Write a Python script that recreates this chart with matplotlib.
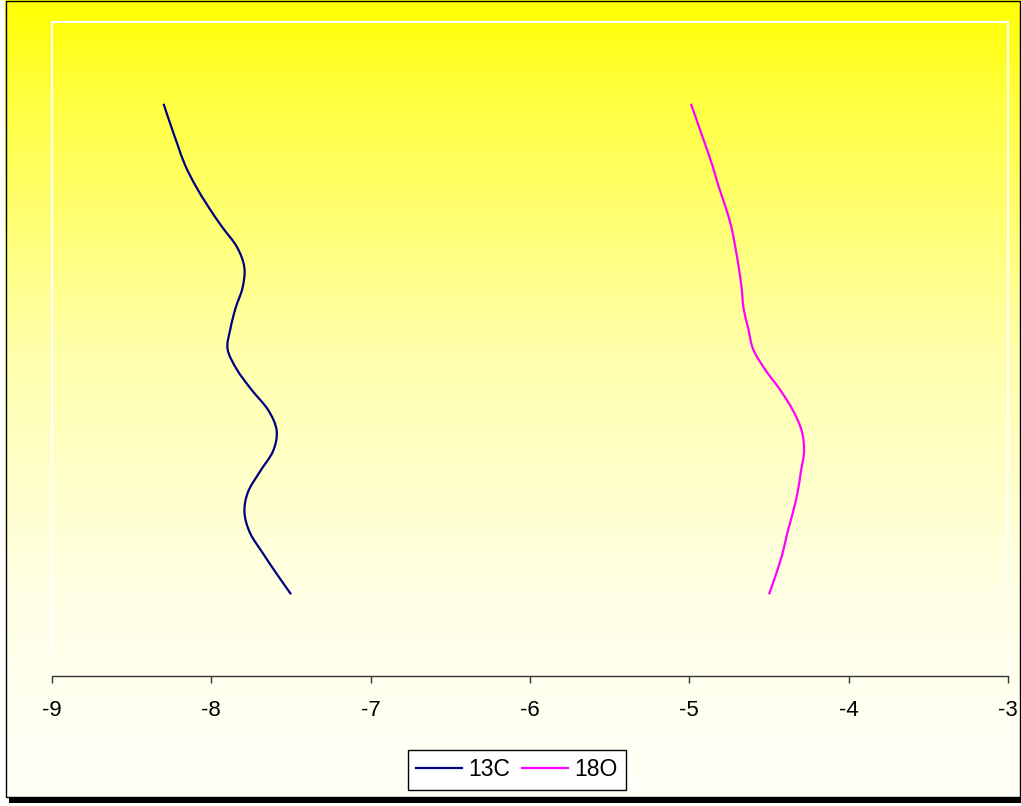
import numpy as np
import matplotlib
matplotlib.use("Agg")
import matplotlib.pyplot as plt
from matplotlib.patches import Rectangle, PathPatch
from matplotlib.path import Path
from matplotlib.lines import Line2D
from matplotlib.colors import LinearSegmentedColormap

plt.rcParams['font.family'] = ['Liberation Sans', 'DejaVu Sans']

# Sample depth positions (hidden vertical axis, increasing downwards)
depth = [1.0, 1.25, 1.5, 1.75, 2.0, 2.25, 2.5, 2.75, 3.0, 3.25, 3.5, 3.75,
         4.0, 4.25, 4.5, 4.75, 5.0, 5.25, 5.5, 5.75, 6.0, 6.25, 6.5, 6.75, 7.0]

# Isotope values
c13 = [-8.30, -8.257, -8.212, -8.165, -8.10, -8.022, -7.935, -7.84, -7.793,
       -7.804, -7.848, -7.88, -7.898, -7.84, -7.747, -7.642, -7.59, -7.613,
       -7.695, -7.77, -7.792, -7.757, -7.676, -7.59, -7.50]
o18 = [-4.99, -4.945, -4.90, -4.856, -4.818, -4.775, -4.737, -4.712, -4.69,
       -4.672, -4.66, -4.63, -4.60, -4.525, -4.43, -4.35, -4.295, -4.28,
       -4.30, -4.32, -4.35, -4.385, -4.415, -4.455, -4.50]

xticks = [-9, -8, -7, -6, -5, -4, -3]

C13_COLOR = '#000080'
O18_COLOR = '#FF00FF'


def smooth_path(xs, ys):
    """Cubic Bezier path through every point (Catmull-Rom style smoothing)."""
    pts = np.column_stack([xs, ys]).astype(float)
    n = len(pts)
    verts = [pts[0]]
    codes = [Path.MOVETO]
    for i in range(n - 1):
        p_prev = pts[max(i - 1, 0)]
        p0 = pts[i]
        p1 = pts[i + 1]
        p_next = pts[min(i + 2, n - 1)]
        c1 = p0 + (p1 - p_prev) / 6.0
        c2 = p1 - (p_next - p0) / 6.0
        verts.extend([c1, c2, p1])
        codes.extend([Path.CURVE4] * 3)
    return Path(verts, codes)


W, H = 1021, 806
fig = plt.figure(figsize=(W / 100, H / 100), dpi=100, facecolor='white')

# Background layer in pixel coordinates
bg = fig.add_axes([0, 0, 1, 1], zorder=0)
bg.set_xlim(0, W)
bg.set_ylim(H, 0)
bg.axis('off')

# Drop shadow below the chart frame
bg.add_patch(Rectangle((9, 797), W - 9, 6, facecolor='black', edgecolor='none'))

# Vertical yellow-to-cream gradient fill
grad_cmap = LinearSegmentedColormap.from_list(
    'yellow_fade',
    [(0.0, (1.0, 1.0, 0.0)),
     (0.12, (1.0, 1.0, 0.25)),
     (0.45, (1.0, 1.0, 0.68)),
     (0.75, (1.0, 1.0, 0.90)),
     (1.0, (1.0, 1.0, 0.975))])
g = np.linspace(0, 1, 512).reshape(-1, 1)
bg.imshow(g, cmap=grad_cmap, aspect='auto', extent=(5, W - 1, 797, 0),
          interpolation='bilinear', zorder=1)
bg.add_patch(Rectangle((5.5, 0.5), W - 6.5, 796.5, facecolor='none',
                       edgecolor='black', linewidth=1.0, zorder=2))

# Main plot area
ax = fig.add_axes([52 / W, (H - 676) / H, (1008 - 52) / W, (676 - 22) / H],
                  zorder=1)
ax.patch.set_alpha(0)

for xs, col in ((c13, C13_COLOR), (o18, O18_COLOR)):
    ax.add_patch(PathPatch(smooth_path(xs, depth), facecolor='none',
                           edgecolor=col, linewidth=1.6, capstyle='butt',
                           joinstyle='round'))

ax.set_xlim(-9, -3)
ax.set_ylim(8, 0)
ax.set_xticks(xticks)
ax.set_xticklabels([str(t) for t in xticks])
ax.set_yticks([])
ax.tick_params(axis='x', direction='out', length=5, width=1, color='#333333',
               pad=12, labelsize=16, labelcolor='black')

for side in ('left', 'right', 'top'):
    ax.spines[side].set_color('white')
    ax.spines[side].set_linewidth(1.5)
ax.spines['bottom'].set_color('#333333')
ax.spines['bottom'].set_linewidth(1.0)

handles = [Line2D([], [], color=C13_COLOR, linewidth=1.6),
           Line2D([], [], color=O18_COLOR, linewidth=1.6)]
leg = fig.legend(handles, ['13C', '18O'], loc='center',
                 bbox_to_anchor=(517 / W, 1 - 770 / H), ncol=2,
                 fontsize=16.5, frameon=True, fancybox=False, framealpha=1,
                 edgecolor='black', facecolor='white', handlelength=2.0,
                 handletextpad=0.3, columnspacing=0.5, borderpad=0.35,
                 borderaxespad=0)
leg.get_frame().set_linewidth(1.0)

fig.savefig('out.png', dpi=100, facecolor='white')
